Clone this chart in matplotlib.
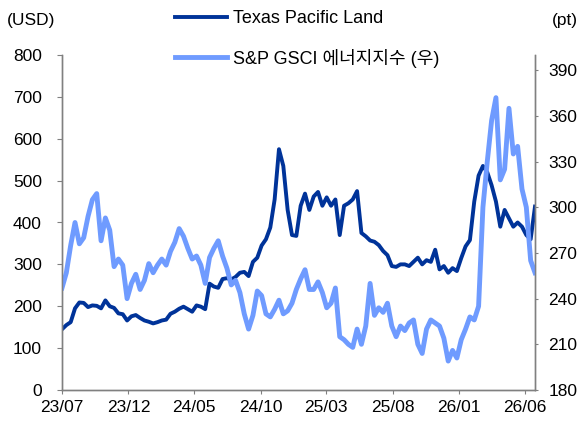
import pandas as pd
import matplotlib
matplotlib.use("Agg")
import matplotlib.pyplot as plt
import matplotlib.dates as mdates

plt.rcParams['font.family'] = ['Liberation Sans', 'Noto Sans CJK KR', 'DejaVu Sans']

# 10-day sampling, 2023-07-01 .. 2026-06-25
dates = pd.date_range('2023-07-01', periods=110, freq='10D')

# Texas Pacific Land (USD, left axis)
tpl = [145, 155, 162, 195, 209, 208, 198, 202, 201, 195,
       214, 200, 196, 183, 181, 166, 176, 179, 172, 166,
       163, 159, 162, 166, 168, 182, 187, 194, 199, 193,
       187, 202, 199, 193, 254, 247, 244, 265, 267, 264,
       270, 280, 282, 272, 306, 316, 345, 360, 388, 455,
       575, 535, 430, 370, 368, 440, 469, 430, 462, 473,
       440, 460, 440, 455, 370, 440, 446, 455, 475, 375,
       367, 357, 354, 346, 332, 322, 296, 294, 300, 300,
       296, 306, 316, 300, 310, 306, 335, 288, 296, 280,
       291, 284, 315, 343, 358, 450, 512, 535, 520, 489,
       450, 390, 430, 410, 390, 400, 390, 370, 360, 438]

# S&P GSCI energy index (pt, right axis)
gsci = [247, 257, 275, 290, 276, 280, 294, 305, 309, 278,
        293, 285, 261, 266, 262, 240, 250, 256, 246, 252,
        263, 257, 262, 266, 262, 271, 277, 286, 281, 273,
        266, 268, 262, 250, 267, 273, 278, 268, 260, 249,
        252, 244, 230, 220, 229, 245, 242, 230, 228, 233,
        239, 230, 232, 237, 246, 253, 259, 246, 246, 251,
        244, 234, 237, 247, 215, 213, 210, 208, 220, 210,
        222, 250, 229, 234, 231, 237, 222, 215, 222, 219,
        224, 226, 210, 204, 220, 226, 224, 222, 214, 199,
        206, 201, 213, 220, 228, 226, 235, 300, 330, 357,
        372, 318, 325, 365, 335, 340, 312, 300, 265, 257]

tick_dates = pd.to_datetime(['2023-07-01', '2023-12-01', '2024-05-01', '2024-10-01',
                             '2025-03-01', '2025-08-01', '2026-01-01', '2026-06-01'])

dark = '#003399'
light = '#6f9bff'
grey = '#808080'

fig = plt.figure(figsize=(5.8, 4.23), dpi=100)
ax = fig.add_axes([62 / 580, 1 - 390 / 423, 473 / 580, 335 / 423])
ax2 = ax.twinx()

l1, = ax.plot(dates, tpl, color=dark, lw=2.8, label='Texas Pacific Land')
l2, = ax2.plot(dates, gsci, color=light, lw=3.5, label='S&P GSCI 에너지지수 (우)')

ax.set_xlim(dates[0], dates[-1])
ax.set_ylim(0, 800)
ax.set_yticks(range(0, 801, 100))
ax2.set_ylim(180, 400)
ax2.set_yticks(range(180, 391, 30))
ax.set_xticks(tick_dates)
ax.xaxis.set_major_formatter(mdates.DateFormatter('%y/%m'))

for a in (ax, ax2):
    a.spines['top'].set_visible(False)
    for s in ('left', 'right', 'bottom'):
        a.spines[s].set_color(grey)
        a.spines[s].set_linewidth(1.0)
ax.tick_params(axis='y', direction='out', length=3.5, color=grey, pad=11, labelsize=12.5)
ax.tick_params(axis='x', direction='out', length=3, color=grey, pad=4, labelsize=12.5)
ax2.tick_params(axis='y', direction='out', length=2.5, color=grey, pad=7, labelsize=12.5)

fig.text(7 / 580, 1 - 20.5 / 423, '(USD)', fontsize=12.5, va='center', ha='left')
fig.text(578 / 580, 1 - 20.5 / 423, '(pt)', fontsize=12.5, va='center', ha='right')

fig.legend(handles=[l1, l2], loc='upper left', bbox_to_anchor=(175 / 580, 1 - 10 / 423),
           frameon=False, fontsize=13, borderpad=0, borderaxespad=0,
           handlelength=2.9, handletextpad=0.3, labelspacing=1.2)

fig.savefig('out.png', dpi=100)
